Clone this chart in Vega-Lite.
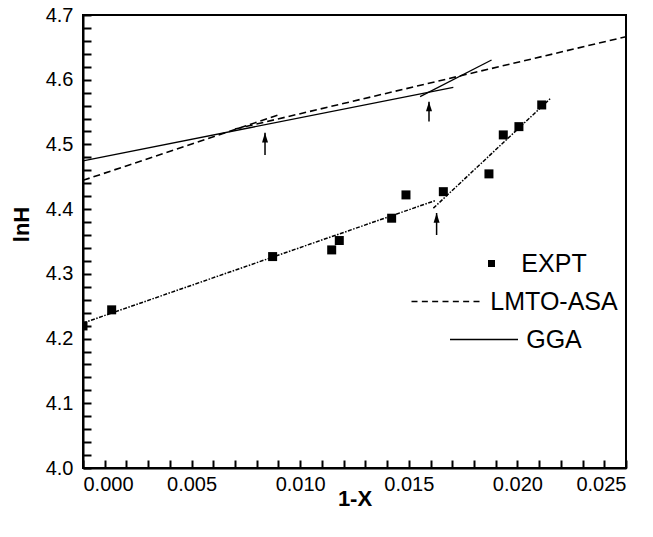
{
  "$schema": "https://vega.github.io/schema/vega-lite/v6.json",
  "width": 543,
  "height": 453,
  "autosize": {"type": "none"},
  "padding": {"left": 83, "top": 15, "right": 27, "bottom": 69},
  "background": "white",
  "config": {
    "view": {"stroke": "black", "strokeWidth": 2},
    "font": "Liberation Sans",
    "axis": {
      "domainColor": "black", "domainWidth": 2,
      "tickColor": "black", "tickWidth": 2,
      "labelColor": "black", "titleColor": "black",
      "labelFont": "Liberation Sans", "titleFont": "Liberation Sans",
      "labelFontSize": 20, "titleFontSize": 22, "titleFontWeight": "bold",
      "grid": false
    }
  },
  "datasets": {
    "expt": [
      {"series": "EXPT", "x": 0.0000, "y": 4.2195},
      {"series": "EXPT", "x": 0.00132, "y": 4.2444},
      {"series": "EXPT", "x": 0.00873, "y": 4.3267},
      {"series": "EXPT", "x": 0.01145, "y": 4.337},
      {"series": "EXPT", "x": 0.01180, "y": 4.3515},
      {"series": "EXPT", "x": 0.01421, "y": 4.386},
      {"series": "EXPT", "x": 0.01487, "y": 4.422},
      {"series": "EXPT", "x": 0.01659, "y": 4.427},
      {"series": "EXPT", "x": 0.01869, "y": 4.4545},
      {"series": "EXPT", "x": 0.01935, "y": 4.5147},
      {"series": "EXPT", "x": 0.02007, "y": 4.5275},
      {"series": "EXPT", "x": 0.02112, "y": 4.561}
    ],
    "lines": [
      {"series": "LMTO-ASA", "seg": "d1", "x": 0.0, "y": 4.4445},
      {"series": "LMTO-ASA", "seg": "d1", "x": 0.0090, "y": 4.5455},
      {"series": "LMTO-ASA", "seg": "d2", "x": 0.0070, "y": 4.5237},
      {"series": "LMTO-ASA", "seg": "d2", "x": 0.025, "y": 4.6665},
      {"series": "GGA", "seg": "g1", "x": 0.0, "y": 4.4745},
      {"series": "GGA", "seg": "g1", "x": 0.01705, "y": 4.5883},
      {"series": "GGA", "seg": "g2", "x": 0.01552, "y": 4.5738},
      {"series": "GGA", "seg": "g2", "x": 0.01881, "y": 4.6305},
      {"series": "FIT", "seg": "f1", "x": 0.0, "y": 4.224},
      {"series": "FIT", "seg": "f1", "x": 0.0162, "y": 4.413},
      {"series": "FIT", "seg": "f2", "x": 0.01613, "y": 4.4015},
      {"series": "FIT", "seg": "f2", "x": 0.02153, "y": 4.5713}
    ],
    "arrows": [
      {"x": 0.00838, "y": 4.4838, "tip": 4.518},
      {"x": 0.01593, "y": 4.5353, "tip": 4.566},
      {"x": 0.01628, "y": 4.360, "tip": 4.394}
    ]
  },
  "encoding": {
    "x": {
      "field": "x", "type": "quantitative",
      "scale": {"domain": [0, 0.025], "nice": false, "zero": false},
      "axis": {
        "title": "1-X",
        "values": [0,0.001,0.002,0.003,0.004,0.005,0.006,0.007,0.008,0.009,0.010,0.011,0.012,0.013,0.014,0.015,0.016,0.017,0.018,0.019,0.020,0.021,0.022,0.023,0.024,0.025],
        "labelExpr": "round(datum.value*1000) % 5 == 0 ? format(datum.value, '.3f') : ''",
        "tickSize": -8,
        "labelPadding": 14,
        "titleY": 20,
        "encode": {"ticks": {"y2": {"value": {"expr": "round(datum.value*1000) % 5 == 0 ? -8 : -4"}}}}
      }
    },
    "y": {
      "field": "y", "type": "quantitative",
      "scale": {"domain": [4.0, 4.7], "nice": false, "zero": false},
      "axis": {
        "title": "lnH",
        "values": [4.0,4.02,4.04,4.06,4.08,4.1,4.12,4.14,4.16,4.18,4.2,4.22,4.24,4.26,4.28,4.3,4.32,4.34,4.36,4.38,4.4,4.42,4.44,4.46,4.48,4.5,4.52,4.54,4.56,4.58,4.6,4.62,4.64,4.66,4.68,4.7],
        "labelExpr": "round(datum.value*100) % 10 == 0 ? format(datum.value, '.1f') : ''",
        "tickSize": -8,
        "labelPadding": 18,
        "titleX": -50,
        "titleY": 209,
        "encode": {"ticks": {"x2": {"value": {"expr": "round(datum.value*100) % 10 == 0 ? 8 : 4"}}}}
      }
    }
  },
  "layer": [
    {
      "data": {"name": "lines"},
      "transform": [{"filter": "datum.series == 'LMTO-ASA'"}],
      "mark": {"type": "line", "color": "black", "strokeWidth": 1.6, "strokeDash": [7, 4], "clip": true},
      "encoding": {"detail": {"field": "seg"}}
    },
    {
      "data": {"name": "lines"},
      "transform": [{"filter": "datum.series == 'GGA'"}],
      "mark": {"type": "line", "color": "black", "strokeWidth": 1.3},
      "encoding": {"detail": {"field": "seg"}}
    },
    {
      "data": {"name": "lines"},
      "transform": [{"filter": "datum.series == 'FIT'"}],
      "mark": {"type": "line", "color": "black", "strokeWidth": 1.5, "strokeDash": [4, 1.5, 1.5, 1.5]},
      "encoding": {"detail": {"field": "seg"}}
    },
    {
      "data": {"name": "arrows"},
      "mark": {"type": "rule", "color": "black", "strokeWidth": 1.5},
      "encoding": {"y2": {"field": "tip"}}
    },
    {
      "data": {"name": "arrows"},
      "mark": {"type": "point", "shape": "M0,0L1,3.2L-1,3.2Z", "size": 36, "filled": true, "color": "black", "opacity": 1},
      "encoding": {"y": {"field": "tip", "type": "quantitative"}}
    },
    {
      "data": {"name": "expt"},
      "mark": {"type": "square", "filled": true, "color": "black", "size": 81, "opacity": 1, "clip": true}
    },
    {
      "data": {"name": "expt"},
      "mark": {"type": "point", "filled": true, "fill": "black", "stroke": "black", "strokeWidth": 1.5, "size": 100, "opacity": 0},
      "encoding": {
        "shape": {
          "field": "series", "type": "nominal",
          "scale": {
            "domain": ["EXPT", "LMTO-ASA", "GGA"],
            "range": [
              "M8.5,-0.7L9.9,-0.7L9.9,0.7L8.5,0.7Z",
              "M-6.8,-0.16L-5.6,-0.16L-5.6,0.16L-6.8,0.16ZM-4.73,-0.16L-3.53,-0.16L-3.53,0.16L-4.73,0.16ZM-2.67,-0.16L-1.47,-0.16L-1.47,0.16L-2.67,0.16ZM-0.6,-0.16L0.6,-0.16L0.6,0.16L-0.6,0.16ZM1.47,-0.16L2.67,-0.16L2.67,0.16L1.47,0.16ZM3.53,-0.16L4.73,-0.16L4.73,0.16L3.53,0.16ZM5.6,-0.16L6.8,-0.16L6.8,0.16L5.6,0.16Z",
              "M0.9,-0.13L14.5,-0.13L14.5,0.13L0.9,0.13Z"
            ]
          },
          "legend": {
            "title": null,
            "orient": "none",
            "legendX": 350,
            "legendY": 236,
            "labelFont": "Liberation Sans",
            "labelFontSize": 25,
            "labelColor": "black",
            "labelAlign": "center",
            "symbolSize": 100,
            "symbolOpacity": 1,
            "symbolFillColor": "black",
            "symbolStrokeColor": "black",
            "symbolStrokeWidth": 1.5,
            "labelOffset": 96,
            "rowPadding": 12
          }
        }
      }
    }
  ]
}
